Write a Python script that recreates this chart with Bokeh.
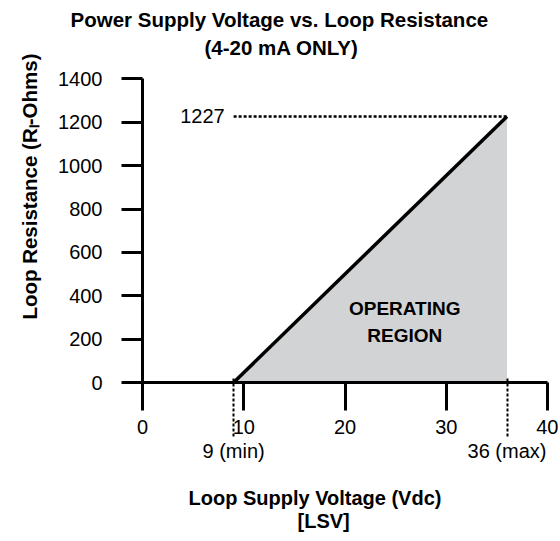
from bokeh.plotting import figure
from bokeh.models import Range1d, FixedTicker, Label, Arrow, LinearAxis, Title
from bokeh.core.properties import value
from bokeh.embed import file_html
from bokeh.resources import INLINE

# ---- data ----
x_ticks = [0, 10, 20, 30, 40]
y_ticks = [0, 200, 400, 600, 800, 1000, 1200, 1400]
v_min = 9          # Vdc
v_max = 36         # Vdc
r_max = 1227       # Ohms at v_max
line_x = [v_min, v_max]
line_y = [0, r_max]
region_x = [v_min, v_max, v_max]
region_y = [0, r_max, 0]
limit_ticks = [v_min, v_max]
limit_labels = {v_min: "9 (min)", v_max: "36 (max)"}

title_1 = "Power Supply Voltage vs. Loop Resistance"
title_2 = "(4-20 mA ONLY)"
x_label_1 = "Loop Supply Voltage (Vdc)"
x_label_2 = "[LSV]"
y_label = "Loop Resistance (R\u2097-Ohms)"
region_label = ["OPERATING", "REGION"]

FONT = "Liberation Sans"
BLACK = "#000000"
GRAY = "#D1D3D4"

p = figure(width=558, height=541, output_backend="svg", toolbar_location=None,
           title=None,
           x_range=Range1d(0, 40), y_range=Range1d(0, 1600),
           min_border_left=142, min_border_right=11,
           min_border_top=35, min_border_bottom=159)
p.outline_line_color = None
p.xgrid.visible = False
p.ygrid.visible = False
p.background_fill_color = "white"
p.border_fill_color = "white"

def style_axis(ax):
    ax.axis_line_width = 3
    ax.axis_line_color = BLACK
    ax.major_tick_line_width = 3
    ax.major_tick_line_color = BLACK
    ax.major_tick_in = 0
    ax.minor_tick_line_color = None
    ax.major_label_text_font = FONT
    ax.major_label_text_font_size = "20px"
    ax.major_label_text_color = BLACK

# main x axis: rule and tick marks
xax = p.xaxis[0]
style_axis(xax)
xax.ticker = FixedTicker(ticks=x_ticks)
xax.major_tick_out = 28
xax.major_label_standoff = 0
xax.major_label_text_color = None

# x tick numbers
num_axis = LinearAxis(ticker=FixedTicker(ticks=x_ticks))
style_axis(num_axis)
num_axis.axis_line_color = None
num_axis.major_tick_line_color = None
num_axis.major_tick_out = 0
num_axis.major_label_standoff = 9
p.add_layout(num_axis, "below")

# y axis
yax = p.yaxis[0]
style_axis(yax)
yax.ticker = FixedTicker(ticks=y_ticks)
yax.bounds = (0, 1400)
yax.major_tick_out = 21
yax.major_label_standoff = 19

# min / max supply voltage (dotted drop lines + labels)
lim_axis = LinearAxis(ticker=FixedTicker(ticks=limit_ticks),
                      major_label_overrides=limit_labels)
style_axis(lim_axis)
lim_axis.axis_line_color = None
lim_axis.major_tick_in = 59
lim_axis.major_tick_out = 0
lim_axis.major_tick_line_width = 2
lim_axis.major_tick_line_dash = "3 2"
lim_axis.major_label_standoff = 3
p.add_layout(lim_axis, "below")

# blank gap between the limit labels and the axis title
gap_axis = LinearAxis(ticker=FixedTicker(ticks=[20]), axis_line_color=None,
                      major_tick_line_color="white", major_tick_line_width=1,
                      major_tick_out=23, major_tick_in=0,
                      minor_tick_line_color=None,
                      major_label_text_color=None, major_label_standoff=0)
p.add_layout(gap_axis, "below")

# bottom axis title (two lines)
p.add_layout(Title(text=x_label_1, align="left", offset=46, vertical_align="top",
                   standoff=-1, text_font=FONT, text_font_size="20px",
                   text_font_style="bold", text_color=BLACK), "below")
p.add_layout(Title(text=x_label_2, align="left", offset=155, vertical_align="top",
                   standoff=-1, text_font=FONT, text_font_size="20px",
                   text_font_style="bold", text_color=BLACK), "below")

# chart title: first line above the frame, second line just above the axis top
p.add_layout(Title(text=title_1, align="left", offset=-72, standoff=9,
                   text_font=FONT, text_font_size="20.5px",
                   text_font_style="bold", text_color=BLACK), "above")
p.add_layout(Label(x=13.73, y=1544, text=title_2, text_font=FONT,
                   text_font_size="20.5px", text_font_style="bold",
                   text_align="center", text_baseline="middle",
                   text_color=BLACK))

# y axis title
p.add_layout(Title(text=y_label, align="right", offset=18, standoff=30,
                   text_font=FONT, text_font_size="20.5px",
                   text_font_style="bold", text_color=BLACK), "left")

# operating region
p.patch(region_x, region_y, fill_color=GRAY, line_color=None)
p.line(line_x, line_y, line_color=BLACK, line_width=3.5)

# dotted guide at max resistance
p.add_layout(Arrow(end=None, x_start=v_min, y_start=r_max, x_end=v_max, y_end=r_max,
                   line_color=BLACK, line_width=2.5, line_dash="3 2"))
p.add_layout(Label(x=v_min, y=r_max, text=str(r_max), text_font=FONT,
                   text_font_size="20px", text_align="right",
                   text_baseline="middle", text_color=BLACK, x_offset=-9))

p.text(x=[25.9, 25.9], y=[339, 215], text=region_label,
       text_font=value(FONT), text_font_size="19px", text_font_style="bold",
       text_align="center", text_baseline="middle", text_color=BLACK)

open("out.html", "w").write(file_html(p, INLINE))
